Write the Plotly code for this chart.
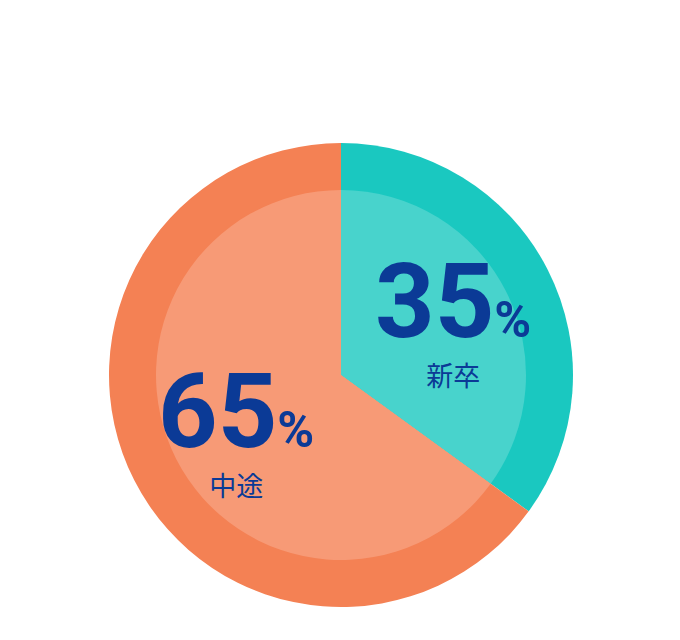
import math
import plotly.graph_objects as go

labels = ["新卒", "中途"]
values = [35, 65]
outer_colors = ["#1AC8C0", "#F48154"]
inner_colors = ["#48D3CC", "#F79A76"]

W, H = 680, 640
# page body adds an 8px margin, so work 8px up/left of the target spot
cx, cy = 333, 367
r_outer, r_inner = 232, 185


def dom(r):
    return dict(x=[(cx - r) / W, (cx + r) / W], y=[1 - (cy + r) / H, 1 - (cy - r) / H])


fig = go.Figure()
fig.add_trace(go.Pie(labels=labels, values=values, sort=False, direction="clockwise",
                     rotation=0, marker=dict(colors=outer_colors, line=dict(width=0)),
                     textinfo="none", hoverinfo="skip", domain=dom(r_outer)))
fig.add_trace(go.Pie(labels=labels, values=values, sort=False, direction="clockwise",
                     rotation=0, marker=dict(colors=inner_colors, line=dict(width=0)),
                     textinfo="none", hoverinfo="skip", domain=dom(r_inner)))

# labels placed along the mid-angle of each slice
total = sum(values)
start = 0
anns = []
for lab, v in zip(labels, values):
    mid = (start + v / 2) / total * 2 * math.pi
    start += v
    ax = cx + 122 * math.sin(mid)
    ay = cy - 122 * math.cos(mid)
    txt = (f"<span style='font-size:104px;font-weight:bold'>{v}</span>"
           f"<span style='font-size:50px;font-weight:bold'>%</span>"
           f"<br><span style='font-size:27px'>{lab}</span>")
    anns.append(dict(
        text=txt, x=ax / W + 0.005, y=1 - (ay - 3) / H, xref="paper", yref="paper",
        xanchor="center", yanchor="middle", showarrow=False,
        font=dict(family="Roboto, Noto Sans CJK JP", size=38, color="#0B3A96")))

fig.update_layout(width=W, height=H, margin=dict(l=0, r=0, t=0, b=0),
                  paper_bgcolor="white", plot_bgcolor="white",
                  showlegend=False, annotations=anns)

fig.write_html("out.html")
